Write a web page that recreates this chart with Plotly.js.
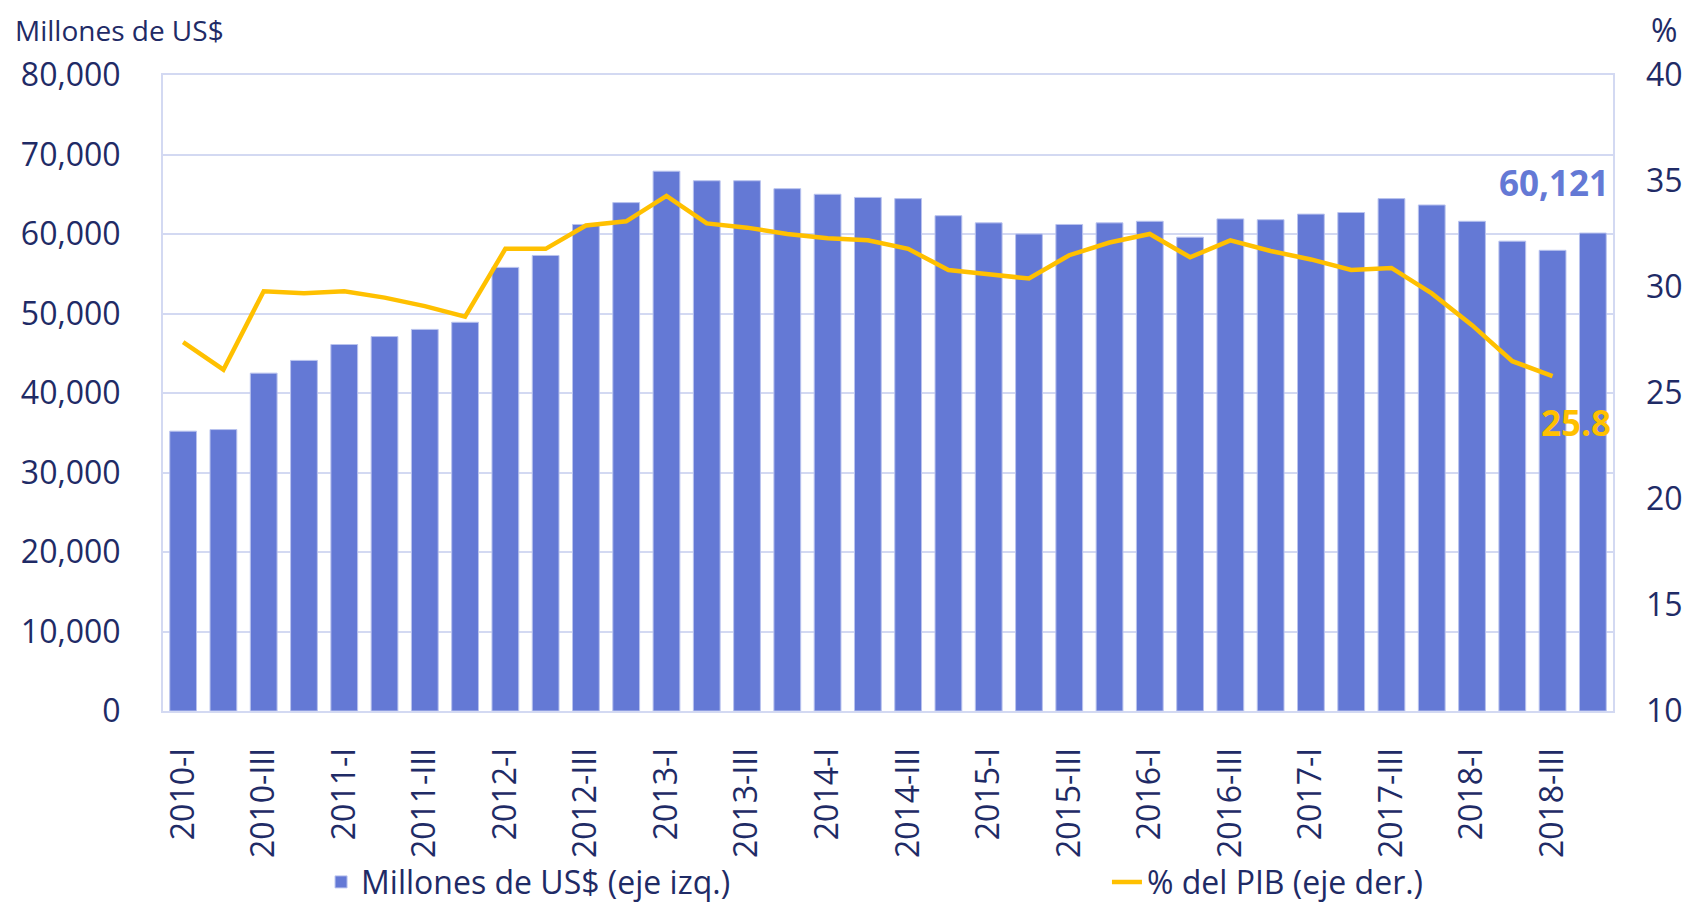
<!DOCTYPE html>
<html>
<head>
<meta charset="utf-8">
<script src="https://cdn.plot.ly/plotly-3.0.1.min.js"></script>
<style>
  html, body { margin: 0; padding: 0; background: #ffffff; }
  #chart { width: 1688px; height: 904px; }
</style>
</head>
<body>
<div id="chart"></div>
<script>
const quarters = [
  '2010-I','2010-II','2010-III','2010-IV',
  '2011-I','2011-II','2011-III','2011-IV',
  '2012-I','2012-II','2012-III','2012-IV',
  '2013-I','2013-II','2013-III','2013-IV',
  '2014-I','2014-II','2014-III','2014-IV',
  '2015-I','2015-II','2015-III','2015-IV',
  '2016-I','2016-II','2016-III','2016-IV',
  '2017-I','2017-II','2017-III','2017-IV',
  '2018-I','2018-II','2018-III','2018-IV'
];
const tickLabels = [
  '2010-I','2010-III','2011-I','2011-III','2012-I','2012-III',
  '2013-I','2013-III','2014-I','2014-III','2015-I','2015-III',
  '2016-I','2016-III','2017-I','2017-III','2018-I','2018-III'
];
const millonesUSD = [
  35200, 35400, 42500, 44100, 46100, 47100, 48000, 48900,
  55800, 57300, 61200, 63950, 67900, 66700, 66700, 65700,
  65000, 64600, 64450, 62300, 61400, 60000, 61200, 61400,
  61600, 59600, 61900, 61800, 62500, 62700, 64450, 63650,
  61600, 59100, 57950, 60121
];
const pctPIB = [
  27.4, 26.1, 29.8, 29.7, 29.8, 29.5, 29.1, 28.6,
  31.8, 31.8, 32.9, 33.1, 34.3, 33.0, 32.8, 32.5,
  32.3, 32.2, 31.8, 30.8, 30.6, 30.4, 31.5, 32.1,
  32.5, 31.4, 32.2, 31.7, 31.3, 30.8, 30.9, 29.7,
  28.2, 26.5, 25.8
];
const leftTitle = 'Millones de US$';
const rightTitle = '%';
const barName = 'Millones de US$ (eje izq.)';
const lineName = '% del PIB (eje der.)';

const navy = '#1F2B66';
const barBlue = '#6479D5';
const gold = '#FFC000';
const grid = '#D3D9F2';
const fontFam = '"Open Sans", "Noto Sans", sans-serif';

const lastBar = millonesUSD.length - 1;
const lastPt = pctPIB.length - 1;

const traces = [
  {
    type: 'bar',
    name: barName,
    x: quarters,
    y: millonesUSD,
    marker: { color: barBlue, line: { color: '#B9C3EE', width: 1 } },
    yaxis: 'y',
    legend: 'legend',
    hoverinfo: 'x+y'
  },
  {
    type: 'scatter',
    mode: 'lines',
    name: lineName,
    x: quarters.slice(0, pctPIB.length),
    y: pctPIB,
    line: { color: gold, width: 4.5 },
    yaxis: 'y2',
    legend: 'legend2',
    hoverinfo: 'x+y'
  }
];

const legendCommon = {
  orientation: 'h',
  xanchor: 'left',
  y: -0.269, yanchor: 'middle',
  font: { size: 32, color: navy, family: fontFam },
  bgcolor: 'rgba(0,0,0,0)',
  borderwidth: 0
};

const layout = {
  width: 1688,
  height: 904,
  paper_bgcolor: '#ffffff',
  plot_bgcolor: '#ffffff',
  margin: { l: 163, r: 75, t: 75, b: 193, pad: 0, autoexpand: false },
  font: { family: fontFam, color: navy, size: 32 },
  bargap: 0.335,
  showlegend: true,
  legend: Object.assign({}, legendCommon, { x: 0.109 }),
  legend2: Object.assign({}, legendCommon, { x: 0.651 }),
  xaxis: {
    type: 'category',
    categoryorder: 'array',
    categoryarray: quarters,
    tickmode: 'array',
    tickvals: tickLabels,
    ticktext: tickLabels,
    tickangle: -90,
    ticks: '',
    ticklabelstandoff: 22,
    tickfont: { size: 32, color: navy, family: fontFam },
    showgrid: false,
    showline: true,
    linecolor: grid,
    linewidth: 2,
    mirror: true,
    zeroline: false,
    automargin: false,
    range: [-0.5, quarters.length - 0.5]
  },
  yaxis: {
    range: [0, 80000],
    tick0: 0,
    dtick: 10000,
    tickformat: ',.0f',
    tickfont: { size: 32, color: navy, family: fontFam },
    ticks: '',
    ticklabelstandoff: 34,
    showgrid: true,
    gridcolor: grid,
    gridwidth: 2,
    showline: true,
    linecolor: grid,
    linewidth: 2,
    mirror: true,
    zeroline: false,
    automargin: false
  },
  yaxis2: {
    overlaying: 'y',
    side: 'right',
    range: [10, 40],
    tick0: 10,
    dtick: 5,
    tickfont: { size: 32, color: navy, family: fontFam },
    ticks: '',
    ticklabelstandoff: 32,
    showgrid: false,
    showline: false,
    zeroline: false,
    automargin: false
  },
  annotations: [
    {
      text: leftTitle, xref: 'paper', yref: 'paper',
      x: -0.1034, y: 1.071, xanchor: 'left', yanchor: 'middle',
      showarrow: false, font: { size: 28, color: navy, family: fontFam }
    },
    {
      text: rightTitle, xref: 'paper', yref: 'paper',
      x: 1.0248, y: 1.071, xanchor: 'left', yanchor: 'middle',
      showarrow: false, font: { size: 32, color: navy, family: fontFam }
    },
    {
      text: millonesUSD[lastBar].toLocaleString('en-US'),
      xref: 'x', yref: 'y',
      x: quarters[lastBar], y: millonesUSD[lastBar],
      xanchor: 'center', yanchor: 'middle',
      xshift: -39, yshift: 51,
      showarrow: false,
      font: { size: 35, color: barBlue, family: fontFam, weight: 'bold' }
    },
    {
      text: pctPIB[lastPt].toFixed(1),
      xref: 'x', yref: 'y2',
      x: quarters[lastPt], y: pctPIB[lastPt],
      xanchor: 'center', yanchor: 'middle',
      xshift: 23, yshift: -46,
      showarrow: false,
      font: { size: 35, color: gold, family: fontFam, weight: 'bold' }
    }
  ]
};

Plotly.newPlot('chart', traces, layout, { displayModeBar: false, staticPlot: true });
</script>
</body>
</html>
